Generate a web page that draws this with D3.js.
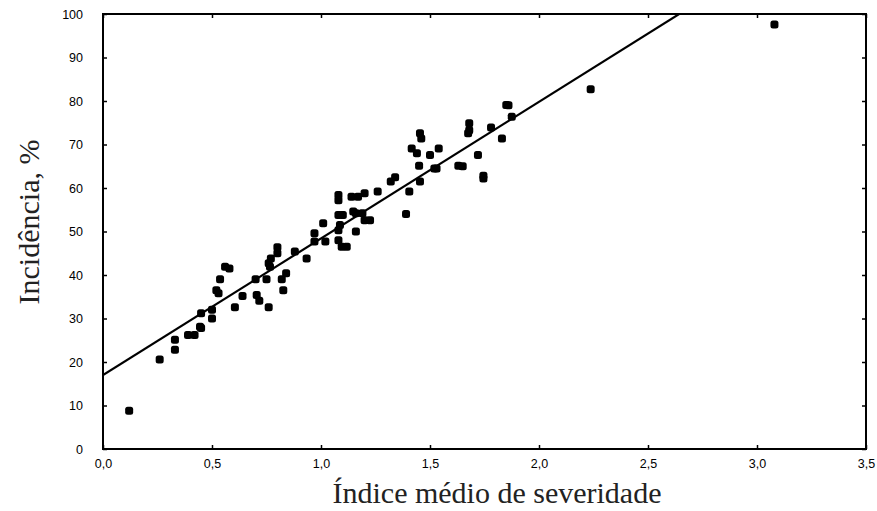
<!DOCTYPE html>
<html>
<head>
<meta charset="utf-8">
<script src="https://d3js.org/d3.v7.min.js"></script>
<style>
  body { margin: 0; background: #fff; }
  .tick text { font-family: "Liberation Sans Narrow", "Liberation Sans", Arial, sans-serif; font-size: 12.5px; }
</style>
</head>
<body>
<svg width="877" height="511"></svg>
<script>
// severity index (x) and incidence % (y)
const severity = [
  0.12, 0.26, 0.33, 0.33, 0.39, 0.42, 0.445, 0.45, 0.45, 0.50, 0.50,
  0.52, 0.53, 0.537, 0.56, 0.58, 0.605, 0.64, 0.70, 0.705, 0.717, 0.75,
  0.76, 0.76, 0.766, 0.77, 0.80, 0.80, 0.82, 0.827, 0.84, 0.88, 0.934,
  0.97, 0.97, 1.01, 1.02, 1.08, 1.08, 1.08, 1.10, 1.087, 1.08, 1.08,
  1.095, 1.118, 1.14, 1.17, 1.20, 1.148, 1.16, 1.16, 1.19, 1.20, 1.225,
  1.26, 1.32, 1.34, 1.39, 1.405, 1.454, 1.45, 1.416, 1.44, 1.454, 1.46,
  1.50, 1.52, 1.53, 1.54, 1.63, 1.65, 1.68, 1.68, 1.675, 1.72, 1.745,
  1.745, 1.78, 1.83, 1.85, 1.86, 1.875, 2.237, 3.08
];
const incidence = [
  8.8, 20.6, 25.1, 22.8, 26.2, 26.2, 28.1, 31.2, 27.8, 32.0, 30.0,
  36.5, 35.8, 39.0, 41.9, 41.5, 32.6, 35.2, 39.0, 35.4, 34.1, 39.0,
  32.6, 42.7, 41.9, 43.8, 46.4, 45.0, 39.0, 36.5, 40.4, 45.4, 43.8,
  49.6, 47.7, 51.9, 47.7, 58.4, 57.2, 53.8, 53.8, 51.5, 50.3, 48.0,
  46.5, 46.5, 58.0, 58.0, 58.8, 54.6, 54.2, 50.0, 54.2, 52.6, 52.6,
  59.2, 61.5, 62.5, 54.0, 59.2, 61.5, 65.1, 69.1, 68.0, 72.6, 71.4,
  67.6, 64.5, 64.5, 69.1, 65.1, 65.0, 74.9, 73.3, 72.6, 67.6, 62.8,
  62.2, 73.9, 71.4, 79.1, 79.0, 76.4, 82.7, 97.6
];
// fitted line endpoints
const fitX = [0, 3.5];
const fitY = [17, 17 + 31.4 * 3.5];

const xTicks = [0, 0.5, 1, 1.5, 2, 2.5, 3, 3.5];
const yTicks = [0, 10, 20, 30, 40, 50, 60, 70, 80, 90, 100];

const svg = d3.select("svg");
const mLeft = 103, mRight = 866, mTop = 14, mBottom = 449;

const x = d3.scaleLinear().domain([0, 3.5]).range([mLeft, mRight]);
const y = d3.scaleLinear().domain([0, 100]).range([mBottom, mTop]);
const fmt = d => d3.format(".1f")(d).replace(".", ",");

svg.append("defs").append("clipPath").attr("id", "clip")
  .append("rect").attr("x", mLeft).attr("y", mTop)
  .attr("width", mRight - mLeft).attr("height", mBottom - mTop);

// axes with inward ticks
const gx = svg.append("g").attr("transform", `translate(0,${mBottom})`)
  .call(d3.axisBottom(x).tickValues(xTicks).tickFormat(fmt).tickSizeInner(-4).tickSizeOuter(0).tickPadding(10));
const gy = svg.append("g").attr("transform", `translate(${mLeft},0)`)
  .call(d3.axisLeft(y).tickValues(yTicks).tickSizeInner(-4).tickSizeOuter(0).tickPadding(20));
const gt = svg.append("g").attr("transform", `translate(0,${mTop})`)
  .call(d3.axisTop(x).tickValues(xTicks).tickFormat("").tickSizeInner(-4).tickSizeOuter(0));
const gr = svg.append("g").attr("transform", `translate(${mRight},0)`)
  .call(d3.axisRight(y).tickValues(yTicks).tickFormat("").tickSizeInner(-4).tickSizeOuter(0));

[gx, gy, gt, gr].forEach(g => {
  g.select(".domain").remove();
  g.selectAll(".tick line").attr("stroke", "#000").attr("stroke-width", 1.5);
  g.selectAll(".tick text").attr("fill", "#000");
});

svg.append("rect")
  .attr("x", mLeft).attr("y", mTop)
  .attr("width", mRight - mLeft).attr("height", mBottom - mTop)
  .attr("fill", "none").attr("stroke", "#000").attr("stroke-width", 2);

// regression line
svg.append("line")
  .attr("clip-path", "url(#clip)")
  .attr("x1", x(fitX[0])).attr("y1", y(fitY[0]))
  .attr("x2", x(fitX[1])).attr("y2", y(fitY[1]))
  .attr("stroke", "#000").attr("stroke-width", 2.2);

// points
const pts = severity.map((s, i) => ({ s: s, v: incidence[i] }));
svg.selectAll("rect.pt")
  .data(pts)
  .enter()
  .append("rect")
  .attr("class", "pt")
  .attr("x", d => x(d.s) - 4)
  .attr("y", d => y(d.v) - 4)
  .attr("width", 8).attr("height", 8)
  .attr("rx", 2.5)
  .attr("fill", "#000");

// axis titles
svg.append("text")
  .attr("x", 497).attr("y", 503)
  .attr("text-anchor", "middle")
  .attr("font-family", "'Liberation Serif', 'Times New Roman', serif")
  .attr("font-size", 30)
  .attr("fill", "#222")
  .text("Índice médio de severidade");

svg.append("text")
  .attr("transform", "translate(39,222) rotate(-90)")
  .attr("text-anchor", "middle")
  .attr("font-family", "'Liberation Serif', 'Times New Roman', serif")
  .attr("font-size", 30)
  .attr("fill", "#222")
  .text("Incidência, %");
</script>
</body>
</html>
